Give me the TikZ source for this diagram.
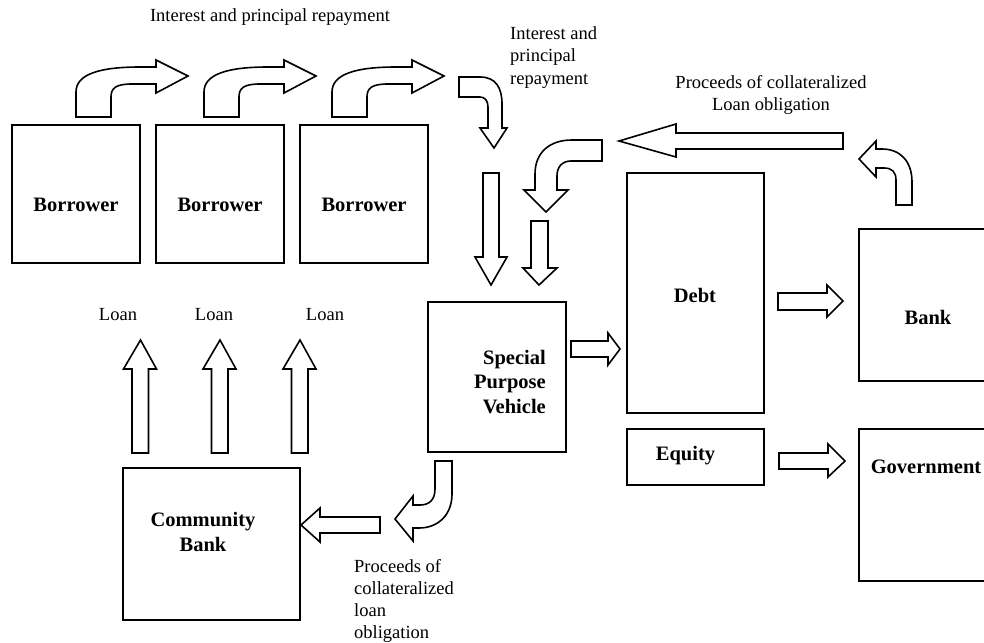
\documentclass[tikz,border=0pt]{standalone}
\usepackage{fontspec}
\setmainfont{Liberation Serif}
\begin{document}
\begin{tikzpicture}[x=1pt,y=-1pt,
  box/.style={draw, line width=2pt, inner sep=0pt},
  blk/.style={draw, line width=1.6pt, line join=miter, fill=white},
  lbl/.style={font=\fontsize{18.5}{22}\selectfont, inner sep=0pt},
  title/.style={font=\fontsize{20.5}{24.5}\selectfont\bfseries, inner sep=0pt}]
\useasboundingbox (0,0) rectangle (984,642);
\clip (0,0) rectangle (984,642);

% ---------- boxes ----------
\node[box, minimum width=128pt, minimum height=138pt] (b1) at (76,194) {};
\node[box, minimum width=128pt, minimum height=138pt] (b2) at (220,194) {};
\node[box, minimum width=128pt, minimum height=138pt] (b3) at (364,194) {};
\node[box, minimum width=138pt, minimum height=150pt] (spv) at (497,377) {};
\node[box, minimum width=137pt, minimum height=240pt] (debt) at (695.5,293) {};
\node[box, minimum width=137pt, minimum height=56pt] (equity) at (695.5,457) {};
\node[box, minimum width=140pt, minimum height=152pt] (bank) at (929,305) {};
\node[box, minimum width=140pt, minimum height=152pt] (gov) at (929,505) {};
\node[box, minimum width=177pt, minimum height=152pt] (cb) at (211.5,544) {};

% ---------- box titles (multi-line nodes sit on their last baseline) ----------
\node[title, anchor=base] (t1) at (76,211) {Borrower};
\node[title, anchor=base] (t2) at (220,211) {Borrower};
\node[title, anchor=base] (t3) at (364,211) {Borrower};
\node[title, anchor=base] (tdebt) at (695,302) {Debt};
\node[title, anchor=base] (tequity) at (685.5,460) {Equity};
\node[title, anchor=base] (tbank) at (928,324) {Bank};
\node[title, anchor=base] (tgov) at (926,473) {Government};
\node[title, anchor=base east, align=right] (tspv) at (546,413) {Special\\Purpose\\Vehicle};
\node[title, anchor=base, align=center] (tcb) at (203,551) {Community\\Bank};

% ---------- flow labels ----------
\node[lbl, anchor=base] (top) at (270,22) {Interest and principal repayment};
\node[lbl, anchor=base west, align=left] (rep) at (510,84) {Interest and\\principal\\repayment};
\node[lbl, anchor=base, align=center] (clo) at (771,110) {Proceeds of collateralized\\Loan obligation};
\node[lbl, anchor=base west, align=left] (clo2) at (354,638) {Proceeds of\\collateralized\\loan\\obligation};
\node[lbl, anchor=base] (l1) at (118,320) {Loan};
\node[lbl, anchor=base] (l2) at (214,320) {Loan};
\node[lbl, anchor=base] (l3) at (325,320) {Loan};

% ---------- bent arrows: borrower to borrower ----------
\foreach \dx in {0,128,256}{
  \draw[blk, shift={(\dx,0)}] (76,117) -- (76,92)
    .. controls (76,74) and (100,67) .. (140,67) -- (156,67) -- (156,60)
    -- (188,76) -- (156,93) -- (156,84) -- (132,84)
    .. controls (116,84) and (111,88) .. (111,97) -- (111,117) -- cycle;
}

% ---------- bent arrow down towards the vehicle ----------
\draw[blk] (459,77) -- (480,77) .. controls (496,77) and (502,88) .. (502,104)
  -- (502,128) -- (507,128) -- (494,148) -- (480,128) -- (488,128) -- (488,107)
  .. controls (488,101) and (485,97) .. (480,97) -- (459,97) -- cycle;

% ---------- straight arrows down into the vehicle ----------
\draw[blk] (483,173) -- (499,173) -- (499,257) -- (507,257) -- (491,285)
  -- (475,257) -- (483,257) -- cycle;
\draw[blk] (531,221) -- (548,221) -- (548,268) -- (557,268) -- (539,285)
  -- (523,268) -- (531,268) -- cycle;

% ---------- bent arrow from proceeds down-left ----------
\draw[blk] (602,140) -- (572,140) .. controls (549,140) and (535,153) .. (535,174)
  -- (535,190) -- (524,190) -- (546,212) -- (568,190) -- (557,190) -- (557,176)
  .. controls (557,167) and (562,161) .. (571,161) -- (602,161) -- cycle;

% ---------- long arrow: proceeds of CLO ----------
\draw[blk] (843,133) -- (676,133) -- (676,124) -- (619,141) -- (676,157)
  -- (676,149) -- (843,149) -- cycle;

% ---------- bent arrow up from the bank ----------
\draw[blk] (896,205) -- (912,205) -- (912,182) .. controls (912,161) and (900,149) .. (882,149)
  -- (876,149) -- (876,141) -- (859,159) -- (876,177) -- (876,168) -- (884,168)
  .. controls (892,168) and (896,172) .. (896,180) -- cycle;

% ---------- vehicle to debt, debt to bank, equity to government ----------
\draw[blk] (571,341) -- (608,341) -- (608,333) -- (620,349) -- (608,365)
  -- (608,357) -- (571,357) -- cycle;
\draw[blk] (778,293) -- (827,293) -- (827,285) -- (843,301) -- (827,317)
  -- (827,310) -- (778,310) -- cycle;
\draw[blk] (779,453) -- (828,453) -- (828,444) -- (845,461) -- (828,477)
  -- (828,469) -- (779,469) -- cycle;

% ---------- loans from the community bank ----------
\foreach \cx in {140.5,220,300}{
  \draw[blk, shift={(\cx,0)}] (-8.5,453) -- (-8.5,369) -- (-17,369) -- (0,340)
    -- (16,369) -- (8,369) -- (8,453) -- cycle;
}

% ---------- bent arrow from the vehicle ----------
\draw[blk] (435,461) -- (452,461) -- (452,494) .. controls (452,515) and (438,528) .. (419,528)
  -- (413,528) -- (413,541) -- (395,519) -- (413,496) -- (413,505) -- (420,505)
  .. controls (430,505) and (435,499) .. (435,489) -- cycle;

% ---------- arrow into the community bank ----------
\draw[blk] (380,517) -- (320,517) -- (320,508) -- (301,525) -- (320,542)
  -- (320,533) -- (380,533) -- cycle;
\end{tikzpicture}
\end{document}
